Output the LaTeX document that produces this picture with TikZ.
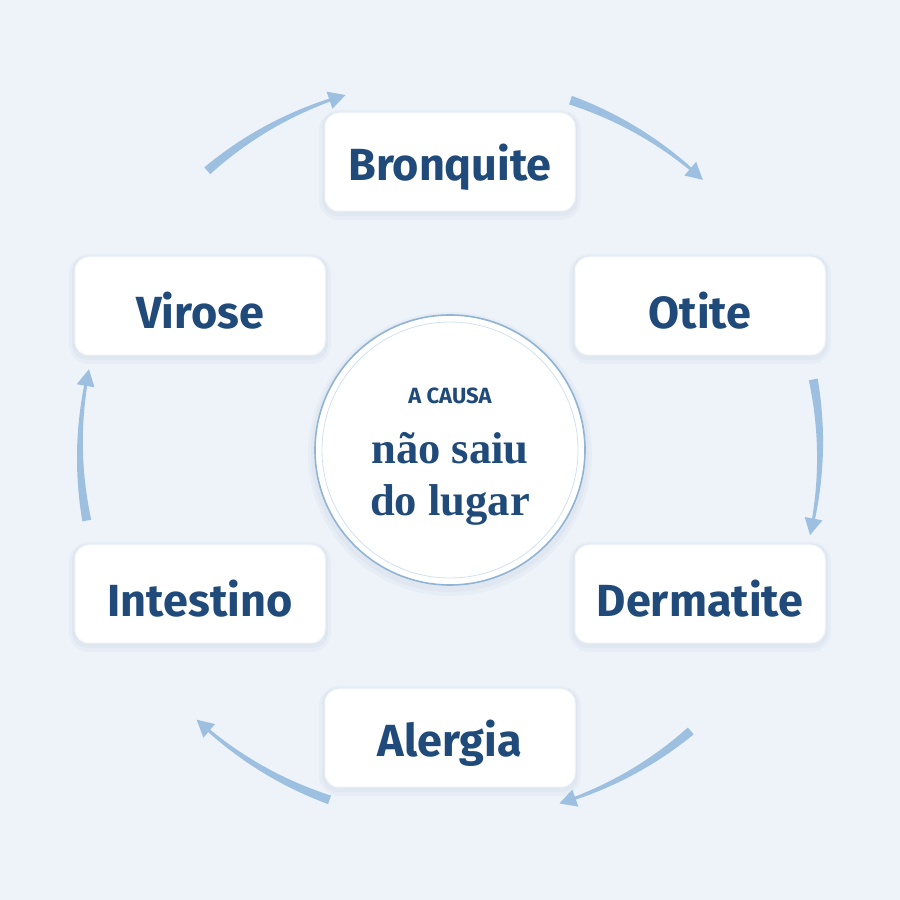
\documentclass[tikz,border=0pt]{standalone}
\usepackage{fontspec}
\setmainfont{Liberation Serif}
\setsansfont{Fira Sans}
\definecolor{bg}{HTML}{EEF3FA}
\definecolor{navy}{HTML}{1F4A7A}
\definecolor{arrowc}{HTML}{9DBFE0}
\definecolor{ring}{HTML}{8FB4D6}
\newcommand\tarr[2]{%
\pgfmathsetmacro\sg{sign(#2-#1)}%
\fill[arrowc] plot[domain=0:1,samples=40] ({450+(374.5-3*\x)*cos(#1+(#2-#1)*\x)},{450+(374.5-3*\x)*sin(#1+(#2-#1)*\x)})
 -- ({450+379*cos(#2)},{450+379*sin(#2)})
 -- ({450+370*cos(#2+\sg*2.6)},{450+370*sin(#2+\sg*2.6)})
 -- ({450+361*cos(#2)},{450+361*sin(#2)})
 -- plot[domain=0:1,samples=40] ({450+(368.5-3*\x)*cos(#2+(#1-#2)*\x)},{450+(368.5-3*\x)*sin(#2+(#1-#2)*\x)}) -- cycle;}
\begin{document}
\begin{tikzpicture}[x=0.5pt,y=0.5pt,
  box/.style={draw=white!90!ring,line width=0.5pt,fill=white,rounded corners=7pt,minimum width=125pt,minimum height=49pt},
  lab/.style={font=\sffamily\bfseries\fontsize{22.5}{26}\selectfont,text=navy}]
\fill[bg] (0,0) rectangle (900,900);
\useasboundingbox (0,0) rectangle (900,900);
\foreach \p in {(450,738),(200,594),(700,594),(200,306),(700,306),(450,162)}{
  \fill[navy,opacity=0.03,rounded corners=10pt] \p ++(-131,-58) rectangle ++(262,110);
  \fill[navy,opacity=0.03,rounded corners=8pt] \p ++(-128,-54) rectangle ++(256,104);}
\fill[navy,opacity=0.03] (450,446) circle (142);
\fill[navy,opacity=0.03] (450,447) circle (139);
\foreach \n/\p/\t in {b/{(450,738)}/Bronquite,v/{(200,594)}/Virose,o/{(700,594)}/Otite,i/{(200,306)}/Intestino,d/{(700,306)}/Dermatite,a/{(450,162)}/Alergia}{
  \node[box] (\n) at \p {};
  \node[lab,yshift=-2.5pt] (\n t) at (\n) {\t};}
\tarr{71}{49.5}
\tarr{11}{-10.7}
\tarr{-49.4}{-70.2}
\tarr{-109}{-130.6}
\tarr{-169}{-190}
\tarr{131}{109}
\node[circle,fill=white,draw=ring,line width=0.8pt,minimum size=135pt] (c) at (450,450) {};
\draw[ring!40,line width=0.4pt] (c.center) circle (128);
\node[font=\sffamily\bfseries\fontsize{11}{13}\selectfont,text=navy] (t1) at (450,504) {A CAUSA};
\node[font=\bfseries\fontsize{22.3}{24}\selectfont,text=navy,align=center] (t2) at (450,421) {não saiu\\[2pt]do lugar};
\end{tikzpicture}
\end{document}
